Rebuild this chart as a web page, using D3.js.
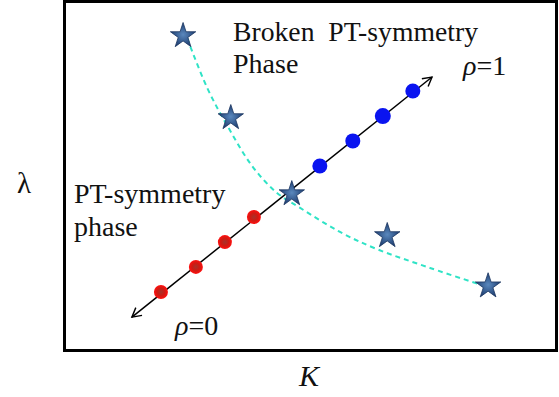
<!DOCTYPE html>
<html>
<head>
<meta charset="utf-8">
<script src="https://cdn.jsdelivr.net/npm/d3@7"></script>
<style>
  html, body { margin: 0; padding: 0; background: #fff; }
  svg { display: block; }
</style>
</head>
<body>
<svg id="chart"></svg>
<script>
// Phase diagram: lambda vs K (schematic, arbitrary units 0..10)
const starK = [2.42, 3.39, 4.63, 6.57, 8.62];
const starLambda = [9.03, 6.68, 4.50, 3.30, 1.86];

// dashed phase boundary
const boundaryK = [2.44, 2.91, 3.37, 3.84, 4.33, 4.80, 5.61, 6.36, 7.44, 8.62];
const boundaryLambda = [9.20, 7.54, 6.33, 5.27, 4.53, 4.10, 3.41, 2.92, 2.38, 1.83];

// rho path (0 -> 1)
const rhoK = [1.38, 7.48];
const rhoLambda = [0.97, 7.85];

const redK = [1.97, 2.68, 3.27, 3.86];
const redLambda = [1.69, 2.41, 3.12, 3.84];
const blueK = [5.20, 5.87, 6.48, 7.09];
const blueLambda = [5.30, 6.02, 6.73, 7.45];
const blueR = [7.5, 7.5, 8, 7.5];

const SERIF = 'Liberation Serif';

const width = 559, height = 397;
const svg = d3.select('#chart').attr('width', width).attr('height', height);

const x = d3.scaleLinear().domain([0, 10]).range([64, 556]);
const y = d3.scaleLinear().domain([0, 10]).range([351, 2]);

const defs = svg.append('defs');
const redGrad = defs.append('radialGradient').attr('id', 'redDot');
redGrad.append('stop').attr('offset', '0%').attr('stop-color', '#a8322a');
redGrad.append('stop').attr('offset', '55%').attr('stop-color', '#d01a12');
redGrad.append('stop').attr('offset', '100%').attr('stop-color', '#ff1010');
const starGrad = defs.append('radialGradient').attr('id', 'starFill');
starGrad.append('stop').attr('offset', '0%').attr('stop-color', '#5a88bd');
starGrad.append('stop').attr('offset', '100%').attr('stop-color', '#1f3f72');

['start', 'end'].forEach(k => {
  defs.append('marker').attr('id', 'arr-' + k)
    .attr('viewBox', '-10 -6 12 12').attr('refX', 0).attr('refY', 0)
    .attr('markerWidth', 12).attr('markerHeight', 12)
    .attr('markerUnits', 'userSpaceOnUse')
    .attr('orient', k === 'end' ? 'auto' : 'auto-start-reverse')
    .append('path').attr('d', 'M-9,-5 L0,0 L-9,5')
    .attr('fill', 'none').attr('stroke', '#000').attr('stroke-width', 1.4);
});

// frame
svg.append('rect').attr('x', x(0) + 0.5).attr('y', y(10) - 0.5)
  .attr('width', x(10) - x(0)).attr('height', y(0) - y(10))
  .attr('fill', 'none').attr('stroke', '#000').attr('stroke-width', 3);

// dashed boundary curve
const boundary = boundaryK.map((k, i) => [k, boundaryLambda[i]]);
svg.append('path')
  .attr('d', d3.line().x(d => x(d[0])).y(d => y(d[1])).curve(d3.curveCatmullRom)(boundary))
  .attr('fill', 'none').attr('stroke', '#2fe3c6').attr('stroke-width', 2)
  .attr('stroke-dasharray', '5,4');

// rho line with arrows at both ends
svg.append('line')
  .attr('x1', x(rhoK[0])).attr('y1', y(rhoLambda[0]))
  .attr('x2', x(rhoK[1])).attr('y2', y(rhoLambda[1]))
  .attr('stroke', '#000').attr('stroke-width', 1.5)
  .attr('marker-start', 'url(#arr-start)').attr('marker-end', 'url(#arr-end)');

// red dots (PT-symmetric)
svg.append('g').selectAll('circle').data(redK).join('circle')
  .attr('cx', d => x(d)).attr('cy', (d, i) => y(redLambda[i]))
  .attr('r', 7).attr('fill', 'url(#redDot)');

// blue dots (broken)
svg.append('g').selectAll('circle').data(blueK).join('circle')
  .attr('cx', d => x(d)).attr('cy', (d, i) => y(blueLambda[i]))
  .attr('r', (d, i) => blueR[i]).attr('fill', '#0a14f0');

// stars
const star = d3.symbol().type(d3.symbolStar).size(200);
svg.append('g').selectAll('path').data(starK).join('path')
  .attr('transform', (d, i) => `translate(${x(d)},${y(starLambda[i])})`)
  .attr('d', star).attr('fill', 'url(#starFill)')
  .attr('stroke', '#1b3560').attr('stroke-width', 0.8);

// labels
function label(tx, ty, str, size, opts = {}) {
  const t = svg.append('text').attr('x', tx).attr('y', ty)
    .attr('font-family', SERIF).attr('fill', '#111')
    .attr('font-size', size + 'px').text(str);
  if (opts.italic) t.attr('font-style', 'italic');
  if (opts.len) t.attr('textLength', opts.len).attr('lengthAdjust', 'spacingAndGlyphs');
  return t;
}
label(233, 41, 'Broken\u00a0 PT-symmetry', 28, { len: 245 });
label(233, 73, 'Phase', 28);
label(74, 203, 'PT-symmetry', 28);
label(74, 236, 'phase', 28);

function rhoLabel(tx, ty, val) {
  const t = svg.append('text').attr('x', tx).attr('y', ty)
    .attr('font-family', SERIF).attr('fill', '#111').attr('font-size', '28px');
  t.append('tspan').attr('font-style', 'italic').text('ρ');
  t.append('tspan').text('=' + val);
}
rhoLabel(463, 75, '1');
rhoLabel(175, 335, '0');

label(17, 193, 'λ', 29);
label(299, 386, 'K', 30, { italic: true });
</script>
</body>
</html>
